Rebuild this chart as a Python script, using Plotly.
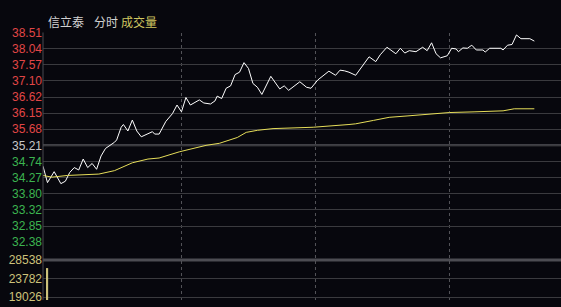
import plotly.graph_objects as go

# ---- data (minutes from session start, prices) ----
price_min = [0, 2, 5, 8, 10, 12, 14, 16, 18, 20, 22, 24, 26, 28, 32, 33, 35, 36, 38, 40,
             42, 44, 47, 49, 50, 52, 55, 58, 60, 62, 64, 66, 70, 72, 75, 77, 78, 80, 82, 84,
             86, 88, 90, 92, 94, 96, 98, 102, 106, 108, 110, 115, 118, 120, 123, 125, 128, 131, 133, 135,
             137, 140, 143, 146, 149, 151, 154, 158, 160, 162, 164, 167, 170, 172, 174, 176, 178, 181, 183, 185,
             186, 188, 190, 192, 194, 197, 198, 200, 205, 206, 208, 210, 212, 214, 218, 220]
price = [34.60, 34.12, 34.44, 34.09, 34.16, 34.42, 34.56, 34.49, 34.81, 34.56, 34.68, 34.51, 34.90, 35.12, 35.30, 35.37, 35.74, 35.82, 35.63, 35.95,
         35.63, 35.46, 35.55, 35.61, 35.54, 35.54, 35.91, 36.14, 36.39, 36.19, 36.61, 36.39, 36.54, 36.45, 36.42, 36.51, 36.65, 36.58, 36.88, 36.95,
         37.28, 37.35, 37.63, 37.46, 37.02, 36.91, 36.70, 37.23, 36.86, 36.95, 36.82, 37.07, 36.91, 36.88, 37.12, 37.23, 37.38, 37.26, 37.41, 37.39,
         37.35, 37.26, 37.53, 37.80, 37.66, 37.86, 38.08, 37.89, 38.05, 37.91, 37.98, 37.95, 38.08, 37.98, 38.21, 37.89, 37.77, 37.83, 38.05, 38.03,
         37.95, 38.06, 38.05, 38.14, 38.00, 38.00, 37.94, 38.05, 38.05, 38.00, 38.14, 38.16, 38.44, 38.33, 38.33, 38.26]

avg_min = [0, 4, 11, 20, 25, 32, 37, 40, 47, 52, 61, 73, 79, 87, 91, 96, 103, 111, 121, 137,
           140, 148, 155, 163, 172, 178, 182, 193, 198, 206, 211, 220]
avg_price = [34.33, 34.28, 34.33, 34.35, 34.37, 34.47, 34.60, 34.70, 34.81, 34.84, 35.02, 35.21, 35.27, 35.44, 35.59, 35.65, 35.70, 35.72, 35.74, 35.82,
             35.84, 35.94, 36.03, 36.07, 36.12, 36.14, 36.17, 36.19, 36.21, 36.22, 36.28, 36.28]

vol_min = [2]
volume = [26460]

prev_close = 35.21
price_ticks = [38.51, 38.04, 37.57, 37.10, 36.62, 36.15, 35.68, 35.21, 34.74, 34.27, 33.80, 33.32, 32.85, 32.38]
vol_ticks = [28538, 23782, 19026]
vline_min = [62, 122, 182]
title_parts = ["信立泰", "分时", "成交量"]

# ---- styling ----
W, H = 561, 307
BG = "#07070d"
GRID = "#3a3a3e"
RED = "#e04646"
GREEN = "#3cb450"
NEUTRAL = "#c8c8c8"
VOLC = "#cdc27a"

def py(px):
    return 1 - px / H

def price_label(v):
    if v > prev_close + 1e-9:
        c = RED
    elif v < prev_close - 1e-9:
        c = GREEN
    else:
        c = NEUTRAL
    return f"<span style='color:{c}'>{v:.2f}</span>"

fig = go.Figure()
fig.add_trace(go.Scatter(x=price_min, y=price, mode="lines",
                         line=dict(color="#ffffff", width=1), xaxis="x", yaxis="y"))
fig.add_trace(go.Scatter(x=avg_min, y=avg_price, mode="lines",
                         line=dict(color="#e6de5a", width=1), xaxis="x", yaxis="y"))
fig.add_trace(go.Bar(x=vol_min, y=volume, width=0.6, marker=dict(color=VOLC, line=dict(width=0)),
                     xaxis="x", yaxis="y2"))

x_left = 43
px_per_min = 134 / 60
x_range = [0, (W - x_left) / px_per_min]

fig.update_layout(
    width=W, height=H, margin=dict(l=0, r=0, t=0, b=0),
    paper_bgcolor=BG, plot_bgcolor=BG, showlegend=False,
    font=dict(family="Liberation Sans, Arial, sans-serif", size=12),
    xaxis=dict(domain=[x_left / W, 1], range=x_range, showgrid=False, zeroline=False,
               showticklabels=False, fixedrange=True),
    yaxis=dict(domain=[py(246.4), py(26.7)], range=[32.38 - 0.002, 38.51 + 0.002],
               tickvals=price_ticks, ticktext=[price_label(v) for v in price_ticks],
               showgrid=True, gridcolor=GRID, gridwidth=1, zeroline=False, ticks="",
               tickfont=dict(size=12), anchor="x"),
    yaxis2=dict(domain=[0, py(265)], range=[18294, 28538 + 10],
                tickvals=vol_ticks, ticktext=[f"<span style='color:{VOLC}'>{v}</span>" for v in vol_ticks],
                showgrid=True, gridcolor=GRID, gridwidth=1, zeroline=False, ticks="",
                tickfont=dict(size=12), anchor="x"),
)

shapes = []
# left border
shapes.append(dict(type="line", xref="paper", yref="paper", x0=x_left / W, x1=x_left / W,
                   y0=0, y1=py(26.7), line=dict(color="#4a4a50", width=1)))
# prev close thick line
shapes.append(dict(type="line", xref="x", yref="y", x0=x_range[0], x1=x_range[1],
                   y0=prev_close, y1=prev_close, line=dict(color="#55555a", width=2), layer="below"))
# separator
shapes.append(dict(type="line", xref="paper", yref="paper", x0=x_left / W, x1=1,
                   y0=py(265), y1=py(265), line=dict(color="#4c4c52", width=3), layer="below"))
for m in vline_min:
    shapes.append(dict(type="line", xref="x", yref="paper", x0=m, x1=m, y0=0, y1=py(26.7),
                       line=dict(color="#55555a", width=1, dash="dot"), layer="below"))
fig.update_layout(shapes=shapes)

cols = ["#d2d2d2", "#d2d2d2", "#d0c660"]
xs = [46, 92, 119]
for t, c, x in zip(title_parts, cols, xs):
    fig.add_annotation(text=t, xref="paper", yref="paper", x=x / W, y=py(15),
                       xanchor="left", yanchor="middle", showarrow=False,
                       font=dict(family="Noto Sans CJK SC", size=12, color=c))

fig.write_html("out.html")
